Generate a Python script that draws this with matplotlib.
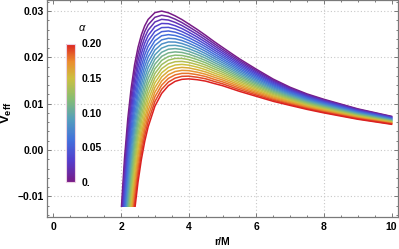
import numpy as np
import matplotlib
matplotlib.use("Agg")
import matplotlib.pyplot as plt
from matplotlib.colors import LinearSegmentedColormap, Normalize
from matplotlib.patches import Rectangle
from matplotlib.ticker import MultipleLocator
import matplotlib.colorbar as mcolorbar

plt.rcParams["font.family"] = ["Liberation Sans", "DejaVu Sans"]
plt.rcParams["mathtext.fontset"] = "custom"
plt.rcParams["mathtext.bf"] = "Liberation Sans:bold"
plt.rcParams["mathtext.rm"] = "Liberation Sans"

# ------------------------------------------------------------------ data
ALPHA = [0.00, 0.01, 0.02, 0.03, 0.04, 0.05, 0.06, 0.07, 0.08, 0.09, 0.10,
         0.11, 0.12, 0.13, 0.14, 0.15, 0.16, 0.17, 0.18, 0.19, 0.20]
R_M = [2.0, 2.1, 2.2, 2.3, 2.4, 2.5, 2.6, 2.7, 2.8, 3.0, 3.2, 3.4, 3.6, 3.8,
       4.0, 4.25, 4.5, 4.75, 5.0, 5.5, 6.0, 6.5, 7.0, 7.5, 8.0, 9.0, 10.0]
# one row per alpha, values at R_M
VEFF = [
    [-0.01363, -0.00194, 0.00686, 0.01348, 0.01845, 0.02214, 0.02486, 0.02683, 0.02820, 0.02967, 0.03000, 0.02964, 0.02897, 0.02817, 0.02723, 0.02605, 0.02477, 0.02343, 0.02217, 0.01969, 0.01745, 0.01531, 0.01355, 0.01211, 0.01095, 0.00889, 0.00727],
    [-0.01590, -0.00401, 0.00498, 0.01176, 0.01687, 0.02069, 0.02352, 0.02558, 0.02704, 0.02866, 0.02911, 0.02885, 0.02826, 0.02752, 0.02664, 0.02551, 0.02428, 0.02298, 0.02175, 0.01934, 0.01715, 0.01507, 0.01335, 0.01194, 0.01080, 0.00878, 0.00719],
    [-0.01818, -0.00607, 0.00310, 0.01004, 0.01529, 0.01923, 0.02217, 0.02433, 0.02588, 0.02765, 0.02822, 0.02807, 0.02756, 0.02688, 0.02605, 0.02497, 0.02378, 0.02253, 0.02134, 0.01899, 0.01686, 0.01483, 0.01316, 0.01177, 0.01066, 0.00866, 0.00710],
    [-0.02045, -0.00813, 0.00122, 0.00832, 0.01371, 0.01778, 0.02082, 0.02308, 0.02472, 0.02663, 0.02733, 0.02728, 0.02685, 0.02623, 0.02545, 0.02442, 0.02329, 0.02207, 0.02093, 0.01864, 0.01657, 0.01459, 0.01296, 0.01161, 0.01051, 0.00855, 0.00701],
    [-0.02273, -0.01020, -0.00066, 0.00660, 0.01213, 0.01632, 0.01948, 0.02183, 0.02356, 0.02562, 0.02644, 0.02649, 0.02614, 0.02558, 0.02486, 0.02388, 0.02279, 0.02162, 0.02051, 0.01829, 0.01628, 0.01435, 0.01276, 0.01144, 0.01036, 0.00844, 0.00693],
    [-0.02500, -0.01226, -0.00245, 0.00488, 0.01055, 0.01486, 0.01813, 0.02058, 0.02239, 0.02461, 0.02556, 0.02571, 0.02544, 0.02494, 0.02427, 0.02333, 0.02230, 0.02117, 0.02010, 0.01794, 0.01598, 0.01411, 0.01257, 0.01127, 0.01022, 0.00833, 0.00684],
    [-0.02728, -0.01433, -0.00443, 0.00316, 0.00897, 0.01341, 0.01679, 0.01934, 0.02123, 0.02360, 0.02467, 0.02492, 0.02473, 0.02429, 0.02367, 0.02279, 0.02180, 0.02071, 0.01968, 0.01758, 0.01569, 0.01387, 0.01237, 0.01111, 0.01007, 0.00822, 0.00676],
    [-0.02955, -0.01639, -0.00631, 0.00144, 0.00739, 0.01195, 0.01544, 0.01809, 0.02007, 0.02259, 0.02378, 0.02413, 0.02402, 0.02365, 0.02308, 0.02225, 0.02131, 0.02026, 0.01927, 0.01723, 0.01540, 0.01363, 0.01218, 0.01094, 0.00992, 0.00810, 0.00667],
    [-0.03182, -0.01845, -0.00819, -0.00028, 0.00581, 0.01050, 0.01409, 0.01684, 0.01891, 0.02158, 0.02289, 0.02334, 0.02331, 0.02300, 0.02248, 0.02170, 0.02081, 0.01981, 0.01886, 0.01688, 0.01510, 0.01339, 0.01198, 0.01077, 0.00977, 0.00799, 0.00658],
    [-0.03410, -0.02052, -0.01007, -0.00200, 0.00423, 0.00904, 0.01275, 0.01559, 0.01775, 0.02057, 0.02200, 0.02256, 0.02261, 0.02236, 0.02189, 0.02116, 0.02032, 0.01935, 0.01844, 0.01653, 0.01481, 0.01315, 0.01179, 0.01061, 0.00963, 0.00788, 0.00650],
    [-0.03638, -0.02258, -0.01195, -0.00372, 0.00265, 0.00758, 0.01140, 0.01434, 0.01659, 0.01956, 0.02111, 0.02177, 0.02190, 0.02171, 0.02130, 0.02062, 0.01983, 0.01890, 0.01803, 0.01618, 0.01452, 0.01291, 0.01159, 0.01044, 0.00948, 0.00777, 0.00641],
    [-0.03865, -0.02464, -0.01383, -0.00544, 0.00107, 0.00613, 0.01006, 0.01309, 0.01543, 0.01854, 0.02022, 0.02098, 0.02119, 0.02107, 0.02070, 0.02007, 0.01933, 0.01845, 0.01761, 0.01583, 0.01423, 0.01267, 0.01139, 0.01027, 0.00933, 0.00765, 0.00633],
    [-0.04093, -0.02671, -0.01571, -0.00716, -0.00051, 0.00467, 0.00871, 0.01185, 0.01427, 0.01753, 0.01934, 0.02020, 0.02049, 0.02042, 0.02011, 0.01953, 0.01884, 0.01799, 0.01720, 0.01548, 0.01393, 0.01243, 0.01120, 0.01010, 0.00919, 0.00754, 0.00624],
    [-0.04320, -0.02877, -0.01759, -0.00888, -0.00209, 0.00322, 0.00736, 0.01060, 0.01311, 0.01652, 0.01845, 0.01941, 0.01978, 0.01978, 0.01952, 0.01898, 0.01834, 0.01754, 0.01679, 0.01513, 0.01364, 0.01219, 0.01100, 0.00994, 0.00904, 0.00743, 0.00615],
    [-0.04548, -0.03083, -0.01947, -0.01060, -0.00367, 0.00176, 0.00602, 0.00935, 0.01195, 0.01551, 0.01756, 0.01862, 0.01907, 0.01913, 0.01892, 0.01844, 0.01785, 0.01709, 0.01637, 0.01478, 0.01335, 0.01195, 0.01081, 0.00977, 0.00889, 0.00732, 0.00607],
    [-0.04775, -0.03290, -0.02135, -0.01232, -0.00525, 0.00030, 0.00467, 0.00810, 0.01079, 0.01450, 0.01667, 0.01783, 0.01836, 0.01849, 0.01833, 0.01790, 0.01735, 0.01663, 0.01596, 0.01443, 0.01306, 0.01171, 0.01061, 0.00960, 0.00874, 0.00721, 0.00598],
    [-0.05002, -0.03496, -0.02323, -0.01404, -0.00683, -0.00115, 0.00332, 0.00685, 0.00963, 0.01349, 0.01578, 0.01705, 0.01766, 0.01784, 0.01773, 0.01735, 0.01686, 0.01618, 0.01554, 0.01408, 0.01276, 0.01147, 0.01042, 0.00944, 0.00860, 0.00709, 0.00590],
    [-0.05230, -0.03702, -0.02511, -0.01576, -0.00841, -0.00261, 0.00198, 0.00561, 0.00847, 0.01248, 0.01489, 0.01626, 0.01695, 0.01720, 0.01714, 0.01681, 0.01636, 0.01573, 0.01513, 0.01373, 0.01247, 0.01123, 0.01022, 0.00927, 0.00845, 0.00698, 0.00581],
    [-0.05458, -0.03909, -0.02699, -0.01748, -0.00999, -0.00406, 0.00063, 0.00436, 0.00731, 0.01147, 0.01400, 0.01547, 0.01624, 0.01655, 0.01655, 0.01627, 0.01587, 0.01527, 0.01472, 0.01338, 0.01218, 0.01099, 0.01002, 0.00910, 0.00830, 0.00687, 0.00572],
    [-0.05685, -0.04115, -0.02887, -0.01920, -0.01157, -0.00552, -0.00071, 0.00311, 0.00614, 0.01046, 0.01311, 0.01468, 0.01553, 0.01591, 0.01595, 0.01572, 0.01538, 0.01482, 0.01430, 0.01302, 0.01188, 0.01075, 0.00983, 0.00894, 0.00815, 0.00676, 0.00564],
    [-0.05913, -0.04321, -0.03075, -0.02093, -0.01315, -0.00698, -0.00206, 0.00186, 0.00498, 0.00945, 0.01222, 0.01390, 0.01483, 0.01526, 0.01536, 0.01518, 0.01488, 0.01437, 0.01389, 0.01267, 0.01159, 0.01051, 0.00963, 0.00877, 0.00801, 0.00664, 0.00555],
]

X_TICKS = [0, 2, 4, 6, 8, 10]
X_TICK_LABELS = ["0", "2", "4", "6", "8", "10"]
Y_TICKS = [-0.01, 0.00, 0.01, 0.02, 0.03]
Y_TICK_LABELS = ["\u22120.01", "0.00", "0.01", "0.02", "0.03"]
BAR_TICKS = [0.00, 0.05, 0.10, 0.15, 0.20]
BAR_TICK_LABELS = ["0.", "0.05", "0.10", "0.15", "0.20"]

V_CLIP = -0.01225   # lower plot range of the curves

# ------------------------------------------------------------------ style
W, H = 399, 249
XLIM = (-0.2, 10.2)
YLIM = (-0.01441, 0.03229)
rainbow = LinearSegmentedColormap.from_list("mma_rainbow", [
    (0.00, (0.47, 0.11, 0.53)),
    (0.15, (0.33, 0.24, 0.80)),
    (0.30, (0.26, 0.44, 0.86)),
    (0.45, (0.33, 0.62, 0.74)),
    (0.60, (0.53, 0.74, 0.45)),
    (0.75, (0.80, 0.75, 0.25)),
    (0.87, (0.92, 0.55, 0.18)),
    (1.00, (0.86, 0.13, 0.13)),
])
norm = Normalize(0.0, 0.20)
FRAME = "#7a7a7a"
GRID = "#c8c8c8"

fig = plt.figure(figsize=(W / 100, H / 100), dpi=100)
ax = fig.add_axes([46.7 / W, 1 - 216.7 / H, 351.6 / W, 216.2 / H])
ax.set_xlim(*XLIM)
ax.set_ylim(*YLIM)

clip = Rectangle((XLIM[0], V_CLIP), XLIM[1] - XLIM[0], YLIM[1] - V_CLIP,
                 transform=ax.transData)
for a, row in zip(ALPHA, VEFF):
    ln, = ax.plot(R_M, row, color=rainbow(norm(a)), lw=1.1,
                  solid_joinstyle="round")
    ln.set_clip_path(clip)

for gx in X_TICKS[1:-1]:
    ax.axvline(gx, color=GRID, lw=0.8, ls=(0, (1, 2)), zorder=0)
for gy in Y_TICKS:
    ax.axhline(gy, color=GRID, lw=0.8, ls=(0, (1, 2)), zorder=0)

ax.set_xticks(X_TICKS, labels=X_TICK_LABELS)
ax.set_yticks(Y_TICKS, labels=Y_TICK_LABELS)
ax.xaxis.set_minor_locator(MultipleLocator(0.5))
ax.yaxis.set_minor_locator(MultipleLocator(0.002))
ax.tick_params(which="both", direction="in", top=True, right=True,
               color=FRAME, width=0.7)
ax.tick_params(which="major", length=3.2)
ax.tick_params(which="minor", length=1.7)
ax.tick_params(axis="x", pad=3.5)
ax.tick_params(axis="y", pad=2)
for lab in ax.get_xticklabels() + ax.get_yticklabels():
    lab.set_fontsize(7.5)
    lab.set_fontweight("bold")
for sp in ax.spines.values():
    sp.set_color(FRAME)
    sp.set_linewidth(0.9)

fig.text(222 / W, 1 - 242 / H, "r/M", ha="center", va="center",
         fontsize=7.5, fontweight="bold")
fig.text(6.5 / W, 1 - 113 / H, r"$\mathbf{V_{eff}}$", ha="center",
         va="center", rotation=90, fontsize=9.5)

# colour bar legend inside the frame
cax = fig.add_axes([65.7 / W, 1 - 181.7 / H, 9.5 / W, 138.2 / H])
cb = mcolorbar.ColorbarBase(cax, cmap=rainbow, norm=norm,
                            orientation="vertical", ticks=BAR_TICKS)
cb.set_ticklabels(BAR_TICK_LABELS)
cb.outline.set_edgecolor("#ecd2e4")
cb.outline.set_linewidth(0.8)
cax.tick_params(length=0, pad=4.5, labelsize=7.5)
for lab in cax.get_yticklabels():
    lab.set_fontweight("bold")
fig.text(82 / W, 1 - 28 / H, "\u03b1", ha="center", va="center",
         fontsize=8, style="italic")

fig.savefig("out.png", dpi=100)
